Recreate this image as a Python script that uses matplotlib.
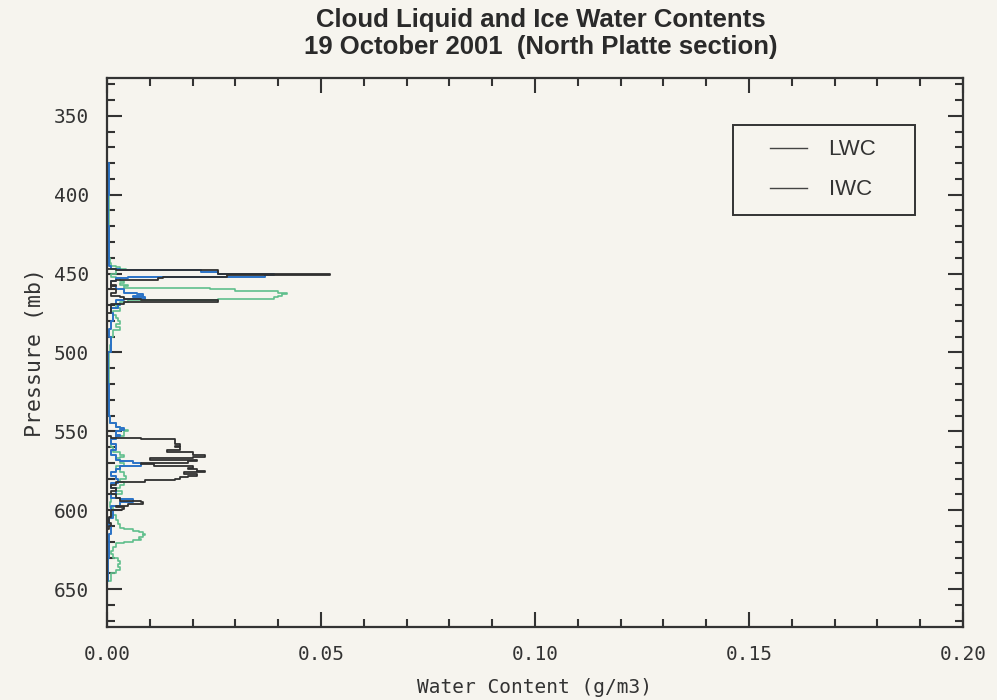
import matplotlib.pyplot as plt
from matplotlib.ticker import MultipleLocator
from matplotlib.legend_handler import HandlerLine2D

# pressure (mb) / water content (g/m3) profiles
lwc_p = [330, 446, 447, 448, 449, 450, 451, 452, 453, 454, 455, 457, 458, 460, 462,
         464, 465, 466, 467, 468, 469, 472, 475, 552, 553, 554, 555, 556, 557, 558,
         559, 560, 561, 562, 563, 564, 565, 566, 567, 568, 569, 570, 571, 572, 573,
         574, 575, 576, 577, 578, 579, 580, 581, 582, 584, 586, 588, 590, 592, 594,
         595, 596, 597, 598, 599, 600, 602, 604, 608, 610, 612, 645]
lwc = [0, 0, 0.002, 0.026, 0.026, 0.052, 0.028, 0.013, 0.012, 0.002, 0.001, 0.002,
       0.001, 0.002, 0.001, 0.003, 0.004, 0.008, 0.026, 0.004, 0.001, 0.001, 0, 0,
       0.001, 0.008, 0.016, 0.016, 0.016, 0.017, 0.016, 0.017, 0.017, 0.014, 0.020,
       0.020, 0.023, 0.020, 0.010, 0.021, 0.019, 0.008, 0.011, 0.020, 0.019, 0.021,
       0.023, 0.018, 0.021, 0.019, 0.017, 0.016, 0.009, 0.002, 0.001, 0.002, 0.001,
       0.002, 0.003, 0.008, 0.0085, 0.005, 0.002, 0.004, 0.0035, 0.001, 0.001,
       0.0005, 0.001, 0.0005, 0, 0]

twc_p = [330, 360, 380, 400, 420, 440, 445, 447, 448, 449, 450, 451, 452, 453, 455,
         458, 460, 462, 463, 464, 465, 466, 467, 469, 470, 472, 475, 480, 485, 490,
         500, 520, 540, 545, 547, 548, 549, 550, 552, 553, 555, 558, 562, 565, 568,
         569, 570, 571, 572, 574, 576, 578, 580, 583, 586, 590, 592, 593, 594, 595,
         597, 600, 605, 610, 615, 620, 630, 645]
twc = [0, 0, 0.0005, 0.0003, 0.0005, 0.0005, 0.001, 0.003, 0.022, 0.026, 0.039,
       0.037, 0.005, 0.002, 0.001, 0.002, 0.004, 0.007, 0.0085, 0.006, 0.009, 0.004,
       0.002, 0.003, 0.0025, 0.001, 0.0015, 0.001, 0.0005, 0.001, 0.0003, 0.0005,
       0.0008, 0.002, 0.003, 0.004, 0.003, 0.002, 0.003, 0.002, 0.001, 0.002, 0.001,
       0.002, 0.003, 0.006, 0.008, 0.008, 0.003, 0.002, 0.001, 0.002, 0.0025, 0.001,
       0.002, 0.001, 0.003, 0.006, 0.006, 0.003, 0.001, 0.0015, 0.0005, 0.001,
       0.0005, 0.0005, 0.0003, 0]

iwc_p = [330, 380, 385, 400, 420, 440, 443, 445, 446, 447, 448, 450, 452, 453, 455,
         456, 457, 458, 459, 460, 461, 462, 463, 464, 465, 466, 467, 468, 470, 472,
         474, 476, 478, 480, 482, 484, 486, 490, 495, 500, 510, 520, 530, 540, 545,
         547, 549, 550, 552, 553, 555, 560, 563, 565, 566, 567, 568, 570, 572, 574,
         576, 578, 580, 582, 584, 586, 588, 590, 592, 595, 598, 600, 603, 606, 609,
         611, 612, 613, 614, 615, 616, 617, 618, 619, 620, 621, 623, 626, 628, 630,
         632, 634, 636, 638, 640, 645]
iwc = [0, 0, 0.0003, 0.0005, 0.0004, 0.0006, 0.001, 0.002, 0.003, 0.0045, 0.002,
       0.001, 0.002, 0.003, 0.004, 0.003, 0.005, 0.004, 0.024, 0.030, 0.040, 0.042,
       0.041, 0.040, 0.039, 0.026, 0.005, 0.003, 0.002, 0.003, 0.0015, 0.002,
       0.0025, 0.003, 0.002, 0.003, 0.0015, 0.001, 0.0008, 0.0005, 0.0005, 0.0003,
       0.0005, 0.0008, 0.002, 0.003, 0.005, 0.004, 0.004, 0.002, 0.001, 0.0015,
       0.003, 0.004, 0.003, 0.002, 0.003, 0.004, 0.002, 0.003, 0.004, 0.0045, 0.003,
       0.004, 0.003, 0.002, 0.0035, 0.002, 0.001, 0.0008, 0.0015, 0.001, 0.002,
       0.0025, 0.003, 0.004, 0.006, 0.0075, 0.0085, 0.009, 0.0085, 0.0075, 0.008,
       0.006, 0.004, 0.002, 0.0015, 0.001, 0.0015, 0.0025, 0.003, 0.0025, 0.003,
       0.002, 0.001, 0]

bg = '#f6f4ee'
ink = '#333333'
mono = 'DejaVu Sans Mono'

fig = plt.figure(figsize=(9.97, 7.0), dpi=100, facecolor=bg)
ax = fig.add_axes([0.1073, 0.1043, 0.8586, 0.7843], facecolor=bg)

# steps-pre: level change first, then a flat run at the new pressure
ax.plot(iwc, iwc_p, color='#5fbf8c', lw=1.2, drawstyle='steps-pre', label='IWC')
ax.plot(twc, twc_p, color='#2a72c6', lw=1.4, drawstyle='steps-pre')
ax.plot(lwc, lwc_p, color='#303030', lw=1.3, drawstyle='steps-pre', label='LWC')

ax.set_xlim(0, 0.20)
ax.set_ylim(674, 326)
ax.xaxis.set_major_locator(MultipleLocator(0.05))
ax.xaxis.set_minor_locator(MultipleLocator(0.01))
ax.yaxis.set_minor_locator(MultipleLocator(10))
ax.set_yticks([350, 400, 450, 500, 550, 600, 650])
ax.xaxis.set_major_formatter(plt.FuncFormatter(lambda v, _: f'{v:.2f}'))

ax.tick_params(which='both', direction='in', top=True, right=True, color=ink,
               width=1.5, labelcolor=ink, labelsize=14, pad=13)
ax.tick_params(which='major', length=11)
ax.tick_params(which='minor', length=5.5)
for lab in ax.get_xticklabels() + ax.get_yticklabels():
    lab.set_family(mono)
for s in ax.spines.values():
    s.set_linewidth(1.6)
    s.set_color(ink)

ax.set_xlabel('Water Content (g/m3)', fontsize=14, family=mono, color=ink, labelpad=10)
ax.set_ylabel('Pressure (mb)', fontsize=15.5, family=mono, color=ink, labelpad=6)

fig.text(0.542, 0.988, 'Cloud Liquid and Ice Water Contents\n19 October 2001  (North Platte section)',
         ha='center', va='top', fontsize=18.5, fontweight='bold', family='Liberation Sans',
         color='#2a2a2a', linespacing=1.15)

handles, labels = ax.get_legend_handles_labels()
leg = ax.legend(handles[::-1], labels[::-1], loc='upper left', mode='expand',
                bbox_to_anchor=(0.7313, 0.8144, 0.2126, 0.1), borderaxespad=0,
                fancybox=False, frameon=True, edgecolor=ink, facecolor=bg, framealpha=1,
                prop={'family': 'Liberation Sans', 'size': 16},
                handler_map={h: HandlerLine2D(xpad=1.0) for h in handles},
                handlelength=2.7, handletextpad=0.95, borderpad=0.65, labelspacing=0.85)
leg.get_frame().set_linewidth(1.4)
for line in leg.get_lines():
    line.set_color('#444444')
    line.set_linewidth(1.0)
for t in leg.get_texts():
    t.set_color(ink)

fig.savefig('out.png', dpi=100, facecolor=bg)
